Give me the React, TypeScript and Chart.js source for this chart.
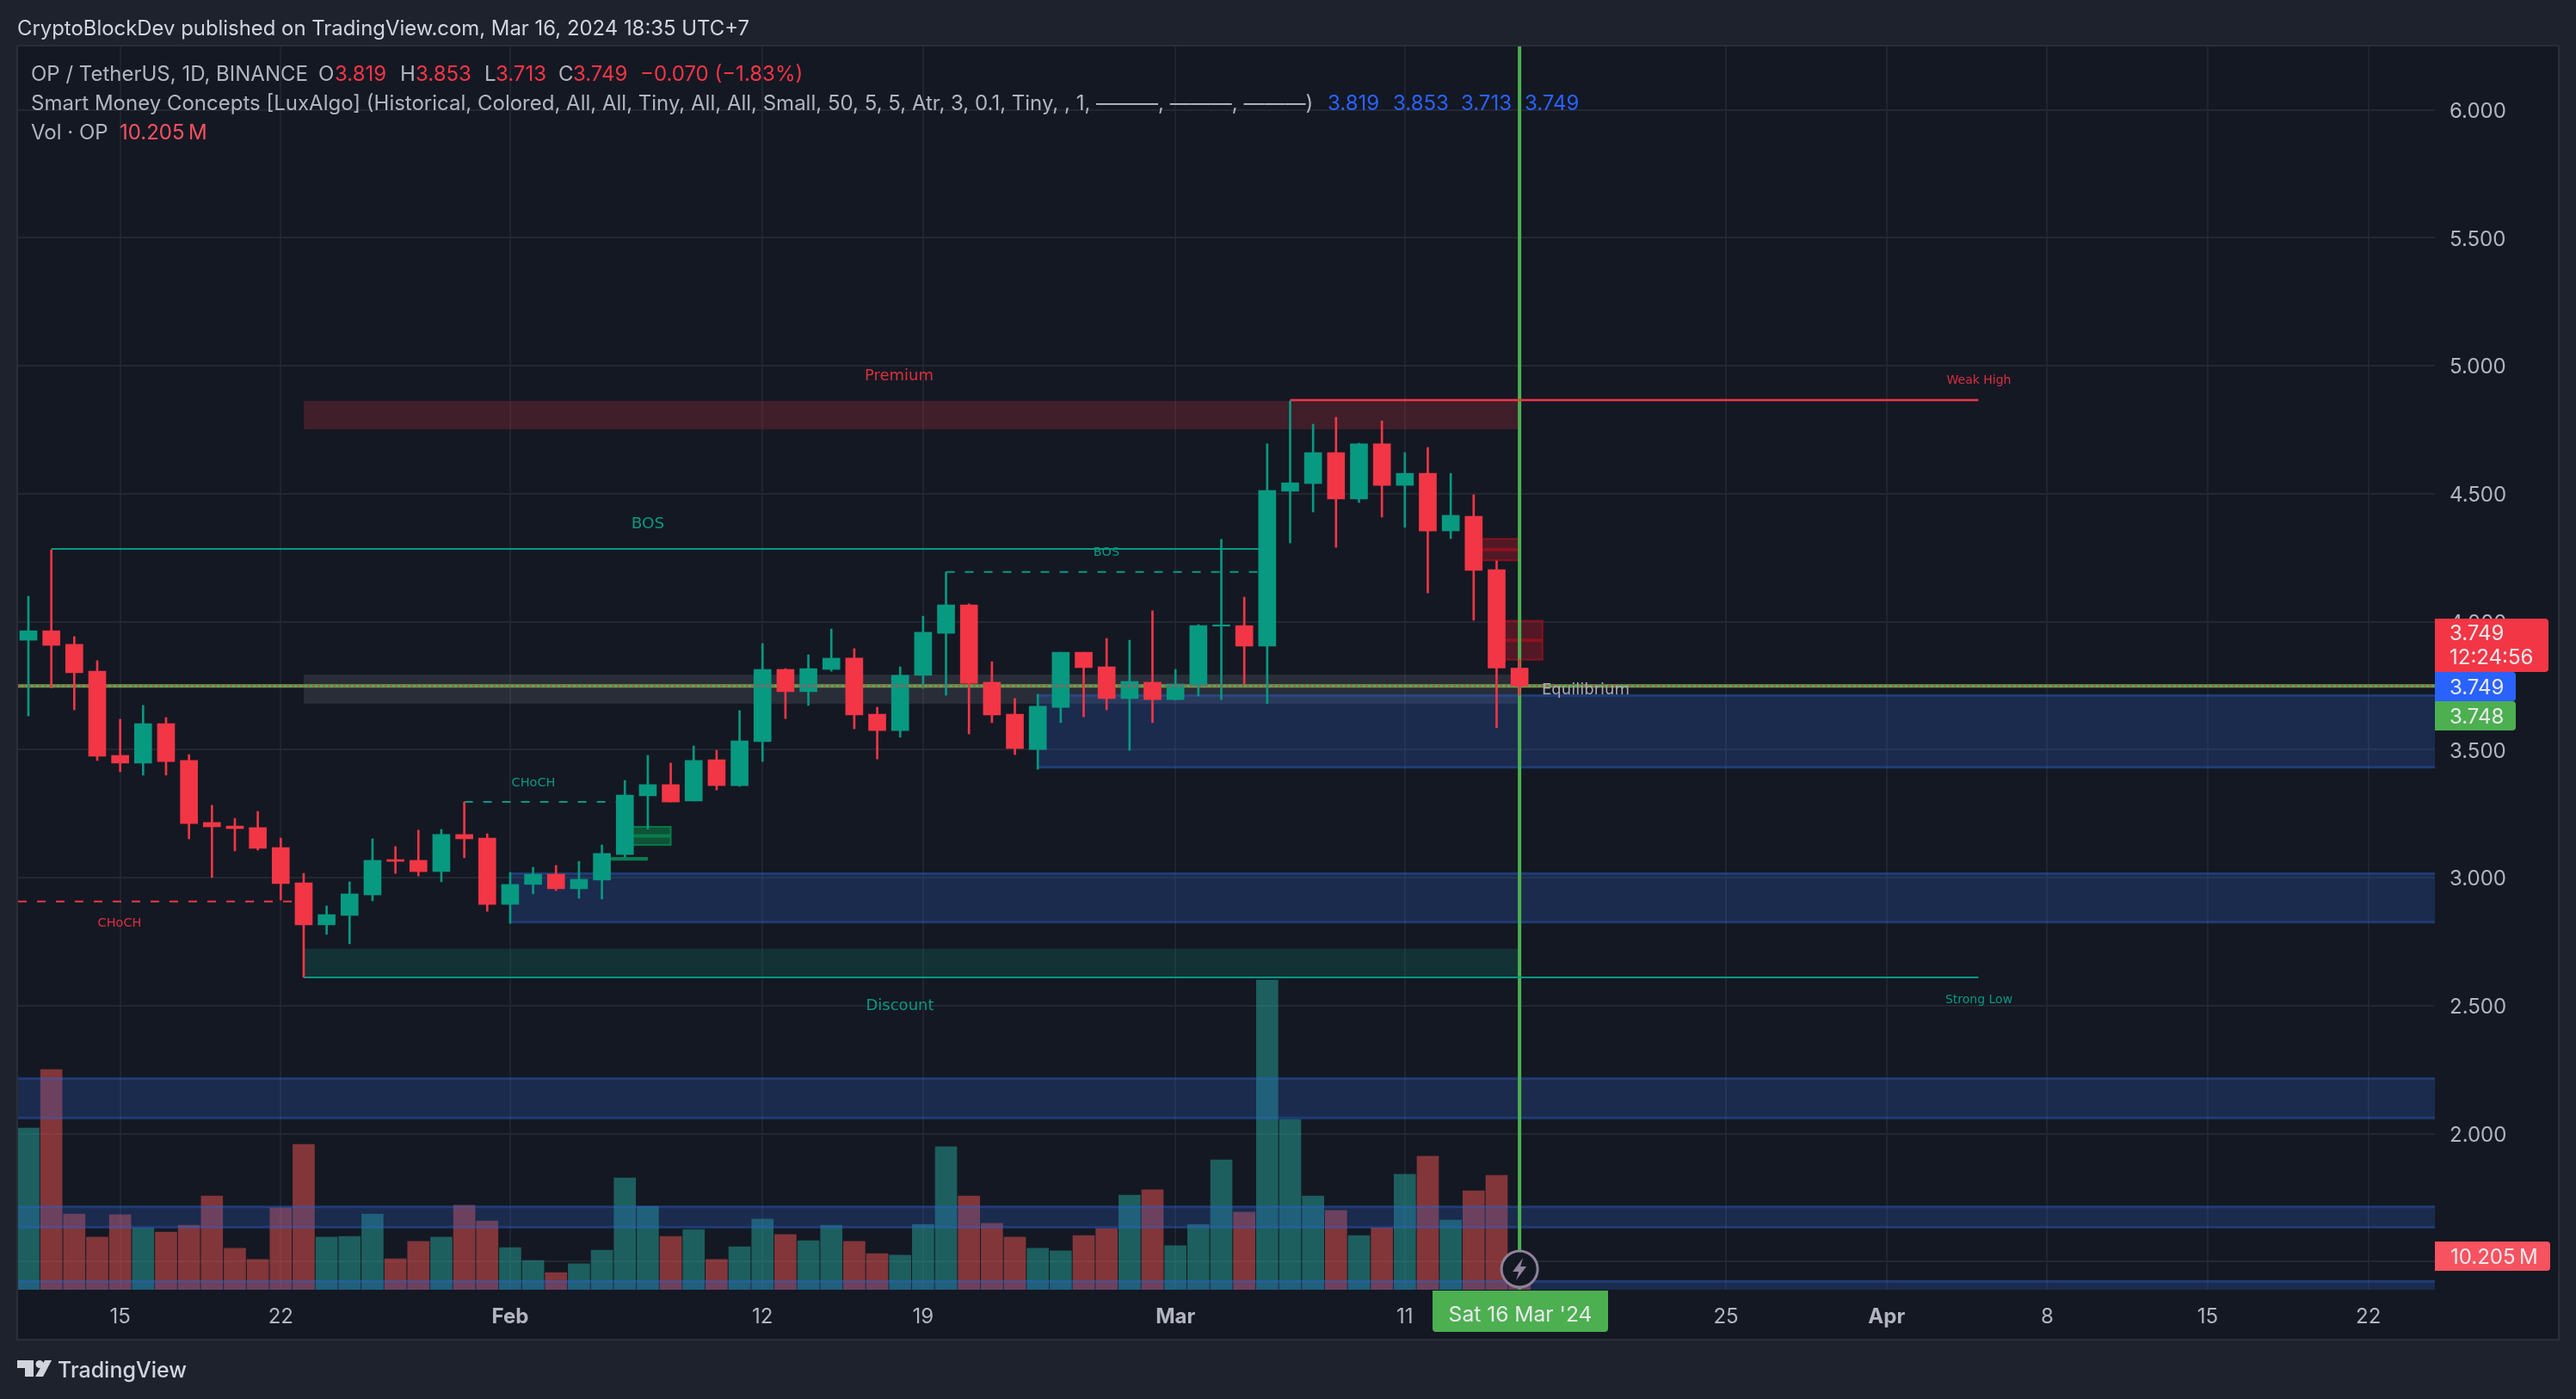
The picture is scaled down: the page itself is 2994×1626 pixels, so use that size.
import { useEffect, useRef } from 'react';
import { Chart, registerables } from 'chart.js';

Chart.register(...registerables);

// days counted from 15 Jan 2024
const sessions = [
  -4, -3, -2, -1, 0, 1, 2, 3, 4, 5, 6, 7, 8, 9, 10, 11, 12, 13, 14, 15, 16,
  17, 18, 19, 20, 21, 22, 23, 24, 25, 26, 27, 28, 29, 30, 31, 32, 33, 34, 35, 36, 37, 38, 39, 40, 41, 42, 43, 44, 45,
  46, 47, 48, 49, 50, 51, 52, 53, 54, 55, 56, 57, 58, 59, 60, 61,
];
const opens = [
  3.928, 3.965, 3.912, 3.807, 3.478, 3.448, 3.602, 3.458, 3.216, 3.202, 3.196, 3.118, 2.98, 2.816, 2.853, 2.933, 3.071, 3.068, 3.024, 3.169, 3.155,
  2.896, 2.974, 3.014, 2.957, 2.991, 3.091, 3.32, 3.364, 3.3, 3.461, 3.36, 3.532, 3.814, 3.727, 3.814, 3.858, 3.639, 3.575, 3.791, 3.955, 4.066, 3.764, 3.639, 3.501, 3.666, 3.881, 3.824, 3.7, 3.764,
  3.696, 3.75, 3.983, 3.985, 3.905, 4.51, 4.54, 4.661, 4.48, 4.695, 4.533, 4.58, 4.355, 4.412, 4.204, 3.819,
];
const highs = [
  4.1, 4.281, 3.942, 3.848, 3.619, 3.673, 3.626, 3.481, 3.283, 3.232, 3.259, 3.155, 3.017, 2.89, 2.984, 3.152, 3.122, 3.186, 3.189, 3.296, 3.172,
  3.021, 3.041, 3.048, 3.064, 3.128, 3.38, 3.478, 3.448, 3.515, 3.498, 3.653, 3.915, 3.817, 3.871, 3.972, 3.895, 3.666, 3.824, 4.022, 4.194, 4.07, 3.844, 3.7, 3.717, 3.881, 3.881, 3.935, 3.928, 4.043,
  3.814, 3.989, 4.322, 4.096, 4.695, 4.863, 4.772, 4.799, 4.698, 4.785, 4.661, 4.681, 4.58, 4.496, 4.238, 3.853,
];
const lows = [
  3.632, 3.742, 3.656, 3.458, 3.414, 3.401, 3.401, 3.152, 3.001, 3.105, 3.108, 2.913, 2.611, 2.779, 2.742, 2.91, 3.017, 3.007, 2.984, 3.078, 2.869,
  2.822, 2.937, 2.95, 2.92, 2.917, 3.081, 3.19, 3.296, 3.3, 3.343, 3.357, 3.454, 3.622, 3.673, 3.807, 3.582, 3.464, 3.549, 3.74, 3.713, 3.562, 3.606, 3.481, 3.424, 3.606, 3.629, 3.656, 3.498, 3.606,
  3.694, 3.71, 3.696, 3.757, 3.68, 4.308, 4.429, 4.291, 4.466, 4.409, 4.369, 4.113, 4.325, 4.006, 3.586, 3.713,
];
const closes = [
  3.965, 3.908, 3.801, 3.475, 3.448, 3.602, 3.454, 3.212, 3.199, 3.192, 3.115, 2.977, 2.816, 2.856, 2.937, 3.068, 3.064, 3.024, 3.169, 3.152, 2.896,
  2.974, 3.014, 2.957, 2.994, 3.095, 3.323, 3.364, 3.296, 3.458, 3.36, 3.535, 3.814, 3.727, 3.817, 3.858, 3.636, 3.575, 3.791, 3.959, 4.066, 3.76, 3.636, 3.505, 3.67, 3.881, 3.821, 3.7, 3.767, 3.696,
  3.757, 3.985, 3.988, 3.905, 4.513, 4.543, 4.661, 4.48, 4.695, 4.533, 4.58, 4.355, 4.416, 4.201, 3.819, 3.749,
];
// millions
const volumes = [
  49.2, 67.0, 23.0, 16.0, 22.8, 18.8, 17.5, 19.6, 28.5, 12.6, 9.2, 24.9, 44.2, 16.0, 16.2, 23.0, 9.4, 14.7, 16.0, 25.7, 20.9,
  12.8, 8.9, 5.2, 7.9, 12.0, 34.0, 25.4, 16.2, 18.3, 9.2, 13.1, 21.5, 16.8, 14.9, 19.6, 14.7, 11.0, 10.5, 19.9, 43.5, 28.5, 20.2, 16.0, 12.6, 11.8, 16.5, 18.6, 28.8, 30.4,
  13.4, 19.9, 39.5, 23.6, 94.2, 51.8, 28.5, 24.1, 16.5, 18.8, 35.1, 40.6, 21.2, 30.1, 34.8, 10.205,
];

const timeTickDays = [0, 7, 17, 28, 35, 46, 56, 70, 77, 84, 91, 98];
const timeTickLabels = ['15', '22', 'Feb', '12', '19', 'Mar', '11', '25', 'Apr', '8', '15', '22'];
const monthTickDays = [17, 46, 77];
const priceTicks = [1.5, 2, 2.5, 3, 3.5, 4, 4.5, 5, 5.5, 6];

const DAY_MIN = -4.45;
const DAY_MAX = 100.9;
const PRICE_MIN = 1.3905;
const PRICE_MAX = 6.2477;
const LAST_DAY = 61;

// zones: [from day, to day, top price, bottom price]
const premiumZone = [8, 61, 4.863, 4.752];
const equilibriumZone = [8, 61, 3.794, 3.68];
const discountZone = [8, 61, 2.723, 2.611];
const demandZones = [
  [40, DAY_MAX, 3.717, 3.427],
  [17, DAY_MAX, 3.021, 2.822],
  [DAY_MIN, DAY_MAX, 2.22, 2.057],
  [DAY_MIN, DAY_MAX, 1.719, 1.63],
  [DAY_MIN, DAY_MAX, 1.428, PRICE_MIN],
];
const bullBlocks = [[22, 24, 3.199, 3.128], [21, 23, 3.081, 3.067]];
const bearBlocks = [[59, 61, 4.324, 4.24], [60, 62, 4.004, 3.852]];

// levels: [from day, to day, price]
const weakHigh = [51, 81, 4.866];
const strongLow = [8, 81, 2.611];
const bosSolid = [-3, 50, 4.285];
const bosDashed = [36, 50, 4.195];
const chochBull = [15, 22, 3.296];
const chochBear = [DAY_MIN, 8, 2.907];
const lastPrice = 3.749;

const UP = '#089981';
const DOWN = '#f23645';
const CROSS = '#4caf50';
const SANS = 'Inter, sans-serif';
const TINY = '"DejaVu Sans", sans-serif';
const LABEL_RED = '#d9303f';

const candleColors = closes.map((c, i) => (c >= opens[i] ? UP : DOWN));

function levelDataset(level: number[], color: string, dash: number[] = [], order = 40, width = 2) {
  return {
    type: 'line' as const,
    label: 'level',
    data: [{ x: level[0], y: level[2] }, { x: level[1], y: level[2] }],
    borderColor: color,
    borderWidth: width,
    borderDash: dash,
    pointRadius: 0,
    order,
  };
}

function text(ctx: CanvasRenderingContext2D, s: string, x: number, y: number, font: string, color: string, align: CanvasTextAlign = 'left') {
  ctx.font = font;
  ctx.fillStyle = color;
  ctx.textAlign = align;
  ctx.textBaseline = 'middle';
  ctx.fillText(s, x, y);
}

function tag(ctx: CanvasRenderingContext2D, x: number, y: number, w: number, h: number, color: string) {
  ctx.fillStyle = color;
  ctx.beginPath();
  ctx.roundRect(x, y, w, h, [0, 4, 4, 0]);
  ctx.fill();
}

const frame = {
  id: 'frame',
  beforeDraw(chart: Chart) {
    const { ctx, width, height } = chart;
    ctx.save();
    ctx.fillStyle = '#1e222d';
    ctx.fillRect(0, 0, width, height);
    ctx.fillStyle = '#141823';
    ctx.fillRect(21, 54, 2952, 1502);
    ctx.strokeStyle = '#2a2e39';
    ctx.lineWidth = 2;
    ctx.strokeRect(20, 53, 2954, 1504);
    ctx.restore();
  },
};

// Price labels sit a touch lower than canvas "middle" gives with Inter
const nudgePriceLabels = {
  id: 'nudgePriceLabels',
  afterLayout(chart: Chart) {
    const scale = chart.scales.y as any;
    if (scale._nudged) return;
    const compute = scale._computeLabelItems.bind(scale);
    scale._computeLabelItems = (area: any) =>
      compute(area).map((item: any) => {
        item.options.translation = [item.options.translation[0], item.options.translation[1] + 2];
        return item;
      });
    scale._nudged = true;
  },
};

// Zones sit above the volume bars and below everything else
const zones = {
  id: 'zones',
  afterDatasetDraw(chart: Chart, args: { index: number }) {
    if (chart.data.datasets[args.index].label !== 'Volume') return;
    const { ctx, scales } = chart;
    const box = (z: number[]): [number, number, number, number] => {
      const x0 = scales.x.getPixelForValue(z[0]);
      const x1 = scales.x.getPixelForValue(z[1]);
      const y0 = scales.y.getPixelForValue(z[2]);
      const y1 = scales.y.getPixelForValue(z[3]);
      return [x0, y0, x1 - x0, y1 - y0];
    };
    ctx.save();
    ctx.fillStyle = 'rgba(242,54,69,0.2)';
    ctx.fillRect(...box(premiumZone));
    ctx.fillStyle = 'rgba(120,123,134,0.22)';
    ctx.fillRect(...box(equilibriumZone));
    ctx.fillStyle = 'rgba(8,153,129,0.2)';
    ctx.fillRect(...box(discountZone));
    demandZones.forEach((z) => {
      const [x, y, w, h] = box(z);
      ctx.fillStyle = 'rgba(44,100,208,0.25)';
      ctx.fillRect(x, y, w, h);
      ctx.fillStyle = 'rgba(44,100,208,0.3)';
      ctx.fillRect(x, y, w, 3);
      if (z[3] !== PRICE_MIN) ctx.fillRect(x, y + h - 3, w, 3);
    });
    const block = (z: number[], fill: string, edge: string) => {
      const [x, y, w, h] = box(z);
      ctx.fillStyle = fill;
      ctx.fillRect(x, y, w, h);
      ctx.fillStyle = edge;
      ctx.fillRect(x, y + h / 2 - 2, w, 4);
      ctx.strokeStyle = edge;
      ctx.lineWidth = 2;
      ctx.strokeRect(x, y, w, h);
    };
    block(bullBlocks[0], 'rgba(8,153,80,0.45)', 'rgba(8,130,75,0.9)');
    const [gx, gy, gw, gh] = box(bullBlocks[1]);
    ctx.fillStyle = '#0b7d4f';
    ctx.fillRect(gx, gy, gw, gh);
    bearBlocks.forEach((z) => block(z, 'rgba(178,24,40,0.4)', 'rgba(160,16,30,0.75)'));
    ctx.restore();
  },
};

const overlay = {
  id: 'overlay',
  afterDraw(chart: Chart) {
    const { ctx, scales } = chart;
    const muted = '#b2b5be';
    const xd = (d: number) => scales.x.getPixelForValue(d);
    ctx.save();

    // header
    text(ctx, 'CryptoBlockDev published on TradingView.com, Mar 16, 2024 18:35 UTC+7', 20, 34, `23.9px ${SANS}`, '#d1d4dc');
    const g = `24px ${SANS}`;
    text(ctx, 'OP / TetherUS, 1D, BINANCE', 36, 87, g, muted);
    text(ctx, 'O', 370, 87, g, muted);
    text(ctx, '3.819', 389, 87, g, DOWN);
    text(ctx, 'H', 465, 87, g, muted);
    text(ctx, '3.853', 483, 87, g, DOWN);
    text(ctx, 'L', 563, 87, g, muted);
    text(ctx, '3.713', 576, 87, g, DOWN);
    text(ctx, 'C', 649, 87, g, muted);
    text(ctx, '3.749', 666, 87, g, DOWN);
    text(ctx, '\u22120.070 (\u22121.83%)', 744, 87, g, DOWN);
    text(ctx, 'Smart Money Concepts [LuxAlgo] (Historical, Colored, All, All, Tiny, All, All, Small, 50, 5, 5, Atr, 3, 0.1, Tiny, , 1, \u2014\u2014\u2014, \u2014\u2014\u2014, \u2014\u2014\u2014)', 36, 121, g, muted);
    ['3.819', '3.853', '3.713', '3.749'].forEach((v, i) => text(ctx, v, [1543, 1619, 1698, 1772][i], 121, g, '#2962ff'));
    text(ctx, 'Vol \u00b7 OP', 36, 155, g, muted);
    text(ctx, '10.205\u2009M', 139, 155, g, '#f7525f');

    // structure labels
    text(ctx, 'Premium', 1045, 437, `18px ${TINY}`, LABEL_RED, 'center');
    text(ctx, 'Discount', 1046, 1169, `18px ${TINY}`, UP, 'center');
    text(ctx, 'BOS', 753, 609, `18.5px ${TINY}`, UP, 'center');
    text(ctx, 'BOS', 1286, 642, `14.5px ${TINY}`, UP, 'center');
    text(ctx, 'CHoCH', 620, 910, `14.5px ${TINY}`, UP, 'center');
    text(ctx, 'CHoCH', 139, 1073, `14.5px ${TINY}`, LABEL_RED, 'center');
    text(ctx, 'Weak High', 2300, 442, `14px ${TINY}`, LABEL_RED, 'center');
    text(ctx, 'Strong Low', 2300, 1162, `14px ${TINY}`, UP, 'center');
    text(ctx, 'Equilibrium', 1792, 802, `18px ${TINY}`, '#a8aab5');

    // price tags
    const light = '#e8e9ec';
    tag(ctx, 2830, 719, 132, 62, DOWN);
    text(ctx, '3.749', 2847, 737, `24px ${SANS}`, light);
    text(ctx, '12:24:56', 2847, 765, `24px ${SANS}`, light);
    tag(ctx, 2830, 781, 94, 34, '#2962ff');
    text(ctx, '3.749', 2847, 800, `24px ${SANS}`, light);
    tag(ctx, 2830, 815, 94, 34, CROSS);
    text(ctx, '3.748', 2847, 834, `24px ${SANS}`, light);
    tag(ctx, 2830, 1443, 134, 34, '#f7525f');
    text(ctx, '10.205\u2009M', 2848, 1462, `24px ${SANS}`, light);

    // date tag
    ctx.fillStyle = CROSS;
    ctx.beginPath();
    ctx.roundRect(1665, 1500, 204, 48, [0, 0, 4, 4]);
    ctx.fill();
    text(ctx, "Sat 16 Mar '24", 1767, 1529, `24.6px ${SANS}`, light, 'center');

    // lightning badge
    const bx = xd(LAST_DAY);
    const by = 1475;
    ctx.beginPath();
    ctx.arc(bx, by, 21, 0, Math.PI * 2);
    ctx.fillStyle = '#141823';
    ctx.fill();
    ctx.lineWidth = 3;
    ctx.strokeStyle = '#8f8399';
    ctx.stroke();
    ctx.fillStyle = '#8f8399';
    ctx.beginPath();
    ctx.moveTo(bx + 4, by - 13);
    ctx.lineTo(bx - 8, by + 3);
    ctx.lineTo(bx - 1, by + 3);
    ctx.lineTo(bx - 4, by + 13);
    ctx.lineTo(bx + 8, by - 3);
    ctx.lineTo(bx + 1, by - 3);
    ctx.closePath();
    ctx.fill();

    // logo
    ctx.fillStyle = '#d1d4dc';
    ctx.fillRect(20, 1581, 19, 9);
    ctx.fillRect(29, 1581, 10, 19);
    ctx.beginPath();
    ctx.arc(46, 1585.5, 4.5, 0, Math.PI * 2);
    ctx.fill();
    ctx.beginPath();
    ctx.moveTo(52, 1581);
    ctx.lineTo(60, 1581);
    ctx.lineTo(50, 1600);
    ctx.lineTo(41, 1600);
    ctx.closePath();
    ctx.fill();
    text(ctx, 'TradingView', 67, 1593, `500 25px ${SANS}`, '#d1d4dc');

    ctx.restore();
  },
};

export default function App() {
  const canvasRef = useRef<HTMLCanvasElement | null>(null);

  useEffect(() => {
    if (!canvasRef.current) return;

    const chart = new Chart(canvasRef.current, {
      type: 'bar',
      data: {
        datasets: [
          {
            label: 'Volume',
            yAxisID: 'vol',
            data: sessions.map((d, i) => ({ x: d, y: volumes[i] })),
            backgroundColor: closes.map((c, i) => (c >= opens[i] ? 'rgba(38,166,154,0.5)' : 'rgba(239,83,80,0.5)')),
            grouped: false,
            maxBarThickness: 25,
            barPercentage: 1,
            categoryPercentage: 1,
            order: 50,
          },
          levelDataset([DAY_MIN, DAY_MAX, lastPrice], CROSS, [], 45, 4),
          {
            ...levelDataset([LAST_DAY, LAST_DAY, 0], CROSS, [], 44, 4),
            data: [{ x: LAST_DAY, y: PRICE_MAX }, { x: LAST_DAY, y: PRICE_MIN }],
          },
          levelDataset(weakHigh, DOWN, [], 40, 2.5),
          levelDataset(strongLow, UP),
          levelDataset(bosSolid, UP),
          levelDataset(bosDashed, UP, [10, 12]),
          levelDataset(chochBull, UP, [10, 12]),
          levelDataset(chochBear, DOWN, [10, 12]),
          {
            label: 'Wicks',
            data: sessions.map((d, i) => ({ x: d, y: [lows[i], highs[i]] })),
            backgroundColor: candleColors,
            grouped: false,
            maxBarThickness: 2,
            barPercentage: 1,
            categoryPercentage: 1,
            order: 20,
          },
          {
            label: 'Bodies',
            data: sessions.map((d, i) => ({ x: d, y: [opens[i], closes[i]] })),
            backgroundColor: candleColors,
            grouped: false,
            maxBarThickness: 20,
            barPercentage: 1,
            categoryPercentage: 1,
            order: 10,
          },
          levelDataset([DAY_MIN, DAY_MAX, lastPrice], DOWN, [3, 3], 5),
        ] as any,
      },
      options: {
        responsive: false,
        animation: false,
        devicePixelRatio: 1,
        layout: { padding: { left: 21, top: 54, right: 21, bottom: 70 } },
        plugins: { legend: { display: false }, tooltip: { enabled: false } },
        scales: {
          x: {
            type: 'linear',
            min: DAY_MIN,
            max: DAY_MAX,
            offset: false,
            grid: { offset: false, color: '#20242f', lineWidth: 2, drawTicks: false },
            border: { display: false },
            afterBuildTicks: (scale: any) => {
              scale.ticks = timeTickDays.map((value) => ({ value }));
            },
            afterFit: (scale: any) => {
              scale.height = 57;
            },
            ticks: {
              autoSkip: false,
              maxRotation: 0,
              padding: 17,
              color: '#b2b5be',
              font: (c: any) => ({
                family: 'Inter',
                size: 24,
                weight: monthTickDays.includes(c.tick?.value) ? 'bold' : 'normal',
              }),
              callback: (v: any) => timeTickLabels[timeTickDays.indexOf(v)],
            },
          },
          y: {
            type: 'linear',
            position: 'right',
            min: PRICE_MIN,
            max: PRICE_MAX,
            grid: { color: '#232732', lineWidth: 2, drawTicks: false },
            border: { display: false },
            afterBuildTicks: (scale: any) => {
              scale.ticks = priceTicks.map((value) => ({ value }));
            },
            afterFit: (scale: any) => {
              scale.width = 143;
            },
            ticks: {
              padding: 17,
              color: '#b2b5be',
              font: { family: 'Inter', size: 24 },
              callback: (v: any) => Number(v).toFixed(3),
            },
          },
          vol: { type: 'linear', display: false, min: 0, max: 378.3 },
        },
      },
      plugins: [frame, nudgePriceLabels, zones, overlay],
    });

    return () => chart.destroy();
  }, []);

  return (
    <div style={{ position: 'fixed', left: 0, top: 0 }}>
      <canvas ref={canvasRef} width={2994} height={1626} style={{ display: 'block' }} />
    </div>
  );
}
